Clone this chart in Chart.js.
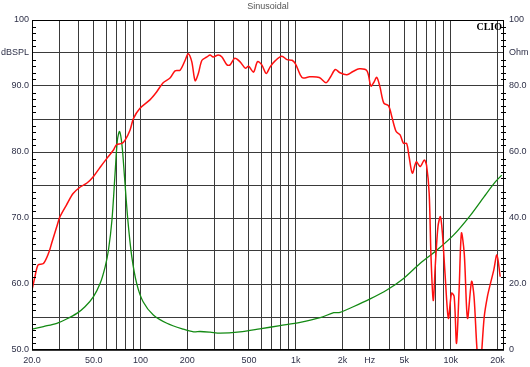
<!DOCTYPE html>
<html>
<head>
<meta charset="utf-8">
<script src="https://cdn.jsdelivr.net/npm/chart.js@4"></script>
<style>
  html, body { margin: 0; padding: 0; background: #fff; }
</style>
</head>
<body>
<canvas id="myChart" width="530" height="367"></canvas>
<script>
// SPL response (dB)
const splFreq = [20, 20.9, 21.9, 23.7, 25.6, 26.8, 28.9, 30.3, 33.4, 36.8, 40.9, 45.2, 49.8, 55, 60.6, 67, 70, 75.9, 79.6, 85.6,
  90.2, 99, 115, 127, 140, 155, 167, 180, 194, 203, 214, 225, 236, 249, 268, 281, 294, 317, 335, 361,
  378, 405, 437, 474, 497, 535, 568, 605, 646, 685, 737, 814, 880, 948, 995, 1070, 1118, 1230, 1420, 1570,
  1680, 1800, 1930, 2140, 2340, 2570, 2880, 3050, 3180, 3330, 3490, 3700, 3970, 4170, 4440, 4710, 4950, 5190, 5380, 5650,
  5990, 6350, 6740, 6970, 7250, 7450, 7700, 7950, 8260, 8560, 8820, 9170, 9640, 10100, 10500, 10880, 11300, 11700, 12200, 12800,
  13600, 14100, 14700, 15300, 16400, 17200, 18000, 18900, 19800, 20800];
const splDb = [59.1, 61.1, 62.9, 63.1, 64.7, 66.2, 68.7, 70.2, 72.0, 73.7, 74.7, 75.3, 76.3, 77.7, 79.0, 80.3, 81.1, 81.3, 81.8, 83.3,
  85.1, 86.6, 87.9, 89.1, 90.5, 91.2, 92.3, 92.4, 93.9, 94.9, 93.7, 90.8, 91.9, 93.9, 94.4, 94.7, 94.4, 94.7, 94.4, 93.2,
  93.2, 94.2, 93.7, 92.7, 93.0, 92.1, 93.7, 93.2, 91.9, 92.9, 93.8, 94.5, 94.0, 93.9, 93.4, 91.7, 91.2, 91.4, 91.3, 90.5,
  91.4, 92.5, 92.0, 91.7, 92.2, 92.6, 92.3, 90.0, 90.5, 91.3, 89.9, 87.4, 87.0, 85.3, 83.1, 82.6, 81.3, 81.3, 79.3, 76.8,
  78.5, 77.8, 78.8, 78.0, 73.7, 64.1, 57.5, 63.1, 68.7, 70.2, 67.7, 61.6, 54.8, 58.6, 58.1, 51.0, 59.1, 67.7, 64.6, 54.8,
  60.4, 58.1, 50.5, 46.0, 55.0, 58.1, 60.1, 62.1, 64.4, 61.1];

// Impedance (Ohm)
const zFreq = [20, 23.7, 28.9, 33.4, 38.9, 43.9, 49.8, 55, 59.2, 62.2, 65.5, 68.6, 71, 73.3, 76, 78.9, 82.9, 87.9, 94.5, 104,
  121, 148, 189, 220, 242, 281, 326, 437, 587, 793, 1070, 1440, 1760, 1930, 2350, 3020, 3870, 4960, 6350, 8140,
  10400, 13400, 16400, 19400, 21300];
const zOhm = [6.3, 7.1, 8.1, 9.4, 11.1, 13.1, 16.2, 20.2, 25.2, 30.3, 39.4, 53.5, 63.6, 66.2, 62.1, 52.5, 39.4, 28.3, 20.2, 14.6,
  10.6, 8.1, 6.3, 5.5, 5.6, 5.4, 5.1, 5.5, 6.4, 7.4, 8.4, 9.8, 11.3, 11.4, 13.1, 15.5, 18.2, 21.7, 26.3, 30.3,
  34.8, 40.9, 46.5, 51.0, 53.0];

// grid lines on the frequency axis and the ones that carry a label
const xGridVals = [20, 30, 40, 50, 60, 70, 80, 90, 100, 200, 300, 400, 500, 600, 700, 800, 900,
  1000, 2000, 3000, 4000, 5000, 6000, 7000, 8000, 9000, 10000, 20000];
const xLabelVals = [20, 50, 100, 200, 500, 1000, 2000, 3000, 5000, 10000, 20000];
const xLabelText = ['20.0', '50.0', '100', '200', '500', '1k', '2k', 'Hz', '5k', '10k', '20k'];
const dbLabelVals = [100, 95, 90, 80, 70, 60, 50];
const dbLabelText = ['100', 'dBSPL', '90.0', '80.0', '70.0', '60.0', '50.0'];
const ohmLabelVals = [100, 90, 80, 60, 40, 20, 0];
const ohmLabelText = ['100', 'Ohm', '80.0', '60.0', '40.0', '20.0', '0'];

const labelFont = {family: '"Liberation Sans", Arial, sans-serif', size: 9};
const labelColor = '#2e3048';
const gridColor = '#3a3a3a';

const frame = {
    id: 'frame',
    afterDraw(chart) {
        const {ctx, chartArea: {left, right, top, bottom}, scales: {y}} = chart;
        ctx.save();
        ctx.strokeStyle = '#000';
        ctx.lineWidth = 1;
        ctx.strokeRect(left + 0.5, top + 0.5, right - left - 1, bottom - top - 1);
        // small ticks every 1 dB on both sides
        ctx.beginPath();
        for (let v = 51; v < 100; v++) {
            if (v % 5 === 0) continue;
            const py = Math.round(y.getPixelForValue(v)) + 0.5;
            ctx.moveTo(left, py);
            ctx.lineTo(left + 4, py);
            ctx.moveTo(right - 3, py);
            ctx.lineTo(right + 2, py);
        }
        ctx.stroke();
        ctx.fillStyle = '#000';
        ctx.font = 'bold 10px "Liberation Serif", serif';
        ctx.textAlign = 'right';
        ctx.textBaseline = 'top';
        ctx.fillText('CLIO', right - 2, top + 2);
        ctx.fillStyle = '#555';
        ctx.font = '9px "Liberation Sans", Arial, sans-serif';
        ctx.textAlign = 'center';
        ctx.textBaseline = 'middle';
        ctx.fillText('Sinusoidal', (left + right) / 2, 7);
        ctx.restore();
    }
};

const ctx = document.getElementById('myChart');

new Chart(ctx, {
    type: 'line',
    data: {
        datasets: [
            {
                data: splFreq.map((f, i) => ({x: f, y: splDb[i]})),
                yAxisID: 'y',
                borderColor: '#ff1010',
                borderWidth: 1.5,
                pointRadius: 0,
                tension: 0.3
            },
            {
                data: zFreq.map((f, i) => ({x: f, y: zOhm[i]})),
                yAxisID: 'y1',
                borderColor: '#138a13',
                borderWidth: 1.3,
                pointRadius: 0,
                tension: 0.3
            }
        ]
    },
    options: {
        responsive: false,
        animation: false,
        layout: {padding: {top: 20, left: 0, right: 0, bottom: 0}},
        plugins: {legend: {display: false}, tooltip: {enabled: false}, title: {display: false}},
        scales: {
            x: {
                type: 'logarithmic',
                min: 20,
                max: 22000,
                afterBuildTicks: s => { s.ticks = xGridVals.map(v => ({value: v})); },
                afterFit: s => { s.height = 17; },
                grid: {color: gridColor, lineWidth: 1, drawTicks: false},
                border: {display: false},
                ticks: {
                    autoSkip: false, maxRotation: 0, padding: 5,
                    font: labelFont, color: labelColor,
                    callback: v => { const i = xLabelVals.indexOf(v); return i < 0 ? '' : xLabelText[i]; }
                }
            },
            y: {
                position: 'left',
                min: 50,
                max: 100,
                afterFit: s => { s.width = 32; },
                grid: {color: gridColor, lineWidth: 1, drawTicks: false},
                border: {display: false},
                ticks: {
                    stepSize: 5, padding: 3,
                    font: labelFont, color: labelColor,
                    callback: v => { const i = dbLabelVals.indexOf(v); return i < 0 ? '' : dbLabelText[i]; }
                }
            },
            y1: {
                position: 'right',
                min: 0,
                max: 100,
                afterFit: s => { s.width = 26; },
                grid: {display: false, drawTicks: false},
                border: {display: false},
                ticks: {
                    stepSize: 10, padding: 5,
                    font: labelFont, color: labelColor,
                    callback: v => { const i = ohmLabelVals.indexOf(v); return i < 0 ? '' : ohmLabelText[i]; }
                }
            }
        }
    },
    plugins: [frame]
});
</script>
</body>
</html>
